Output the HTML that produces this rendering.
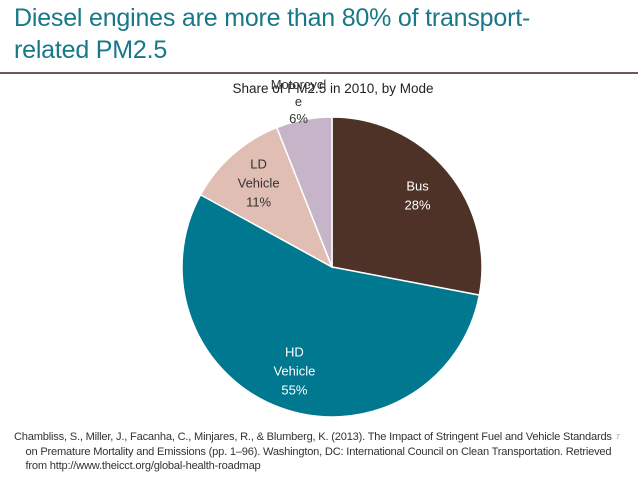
<!DOCTYPE html>
<html><head><meta charset="utf-8"><style>
body{margin:0;width:638px;height:479px;background:#fff;overflow:hidden;font-family:"Liberation Sans",sans-serif;position:relative}
.t{position:absolute;left:14px;top:2px;color:#17788a;font-size:25px;line-height:32px;letter-spacing:-0.2px}
.rule{position:absolute;left:0;top:72px;width:638px;height:2px;background:#6b5a55}
.ref{position:absolute;left:14px;top:430px;font-size:11.1px;line-height:14.5px;color:#333;letter-spacing:-0.2px;white-space:nowrap}
.pg{position:absolute;left:616px;top:434px;font-size:7px;color:#999}
</style></head><body>
<div class="t">Diesel engines are more than 80% of transport-<br>related PM2.5</div>
<div class="rule"></div>
<svg width="638" height="479" style="position:absolute;left:0;top:0">
<text x="333" y="93" text-anchor="middle" font-size="13.5" fill="#222">Share of PM2.5 in 2010, by Mode</text>
<g id="slices"></g>
<g id="labels" font-size="13" text-anchor="middle"></g>
</svg>
<div class="ref">Chambliss, S., Miller, J., Facanha, C., Minjares, R., &amp; Blumberg, K. (2013). The Impact of Stringent Fuel and Vehicle Standards<br>&nbsp;&nbsp;&nbsp;&nbsp;on Premature Mortality and Emissions (pp. 1–96). Washington, DC: International Council on Clean Transportation. Retrieved<br>&nbsp;&nbsp;&nbsp;&nbsp;from http://www.theicct.org/global-health-roadmap</div>
<div class="pg">7</div>
<script>
const categories=["Bus","HD Vehicle","LD Vehicle","Motorcycle"];
const values=[28,55,11,6];
const colors=["#4e3228","#00788f","#e0beb4","#c6b5c9"];
const labelLines=[["Bus","28%"],["HD","Vehicle","55%"],["LD","Vehicle","11%"],["Motorcycl","e","6%"]];
const labelColors=["#fff","#fff","#333","#333"];
const cx=332,cy=267,r=150;
const total=values.reduce((a,b)=>a+b,0);
const ns="http://www.w3.org/2000/svg";
const gs=document.getElementById('slices'),gl=document.getElementById('labels');
function pt(a,rr){return [cx+rr*Math.sin(a),cy-rr*Math.cos(a)];}
let acc=0;
values.forEach((v,i)=>{
  const a0=acc/total*2*Math.PI;acc+=v;const a1=acc/total*2*Math.PI;
  const p0=pt(a0,r),p1=pt(a1,r);
  const p=document.createElementNS(ns,'path');
  p.setAttribute('d',`M${cx},${cy}L${p0[0]},${p0[1]}A${r},${r} 0 ${a1-a0>Math.PI?1:0} 1 ${p1[0]},${p1[1]}Z`);
  p.setAttribute('fill',colors[i]);p.setAttribute('stroke','#fff');p.setAttribute('stroke-width','1.5');
  
  
  gs.appendChild(p);
  const am=(a0+a1)/2;
  const outside=i==3;
  const rl=outside?r*1.12:r*0.74;
  const lp=pt(am,rl);
  if(outside) lp[0]-=2;
  const sp=outside?17:19;
  const lines=labelLines[i];
  const t=document.createElementNS(ns,'text');
  t.setAttribute('fill',labelColors[i]);
  
  
  const y0=lp[1]-(lines.length-1)*sp/2+4;
  lines.forEach((s,k)=>{const ts=document.createElementNS(ns,'tspan');ts.setAttribute('x',lp[0]);ts.setAttribute('y',y0+k*sp);ts.textContent=s;t.appendChild(ts);});
  gl.appendChild(t);
});
</script>
</body></html>
